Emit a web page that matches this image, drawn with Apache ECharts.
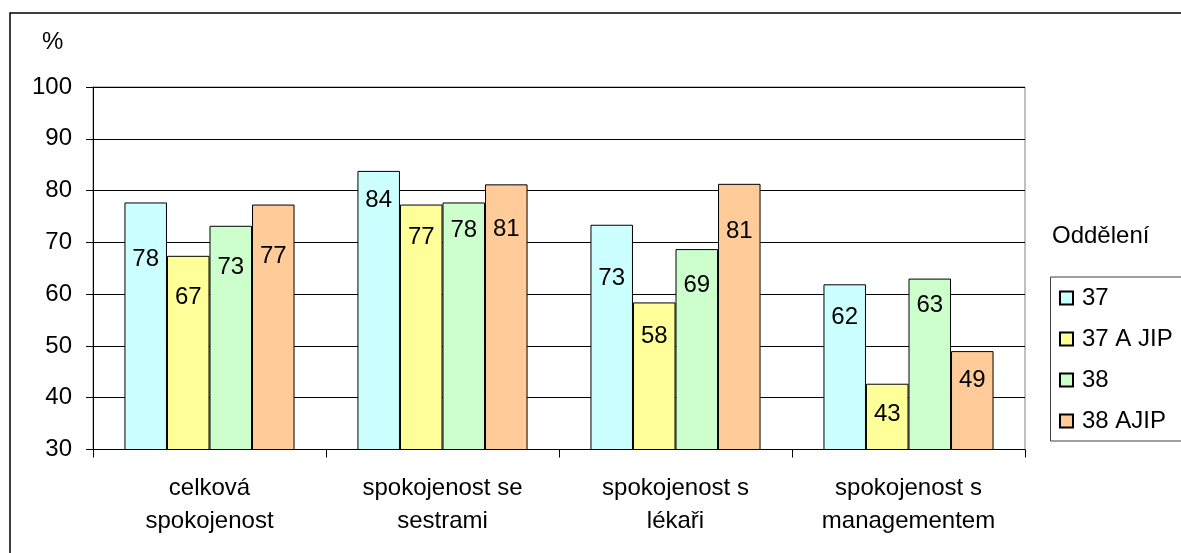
<!DOCTYPE html>
<html>
<head>
<meta charset="utf-8">
<script src="https://cdn.jsdelivr.net/npm/echarts@6/dist/echarts.min.js"></script>
<style>
  html, body { margin: 0; padding: 0; background: #fff; }
  #myChart { width: 1181px; height: 553px; }
</style>
</head>
<body>
<div id="myChart"></div>
<script>
// kategorie a hodnoty (%)
var categories = ['celková\nspokojenost', 'spokojenost se\nsestrami', 'spokojenost s\nlékaři', 'spokojenost s\nmanagementem'];
var seriesNames = ['37', '37 A JIP', '38', '38 AJIP'];
var s37 = [77.7, 83.8, 73.4, 61.9];
var s37ajip = [67.4, 77.3, 58.4, 42.7];
var s38 = [73.2, 77.7, 68.7, 63.0];
var s38ajip = [77.3, 81.2, 81.3, 49.0];
var yTicks = {min: 30, max: 100, step: 10};

var colors = ['#CCFFFF', '#FFFF99', '#CCFFCC', '#FFCC99'];
// posun popisku od horni hrany sloupce (px), jako v puvodnim grafu
var labelDist = [
  [45, 17, 42, 21],
  [30, 21, 22, 19],
  [30, 16, 24, 15],
  [40, 33, 36, 17]
];
var font = 'Liberation Sans, Arial, sans-serif';

function makeSeries(idx, values) {
  return {
    name: seriesNames[idx],
    type: 'bar',
    barGap: 0,
    barCategoryGap: '27%',
    itemStyle: {color: colors[idx], borderColor: '#000', borderWidth: 1},
    label: {
      show: true,
      position: 'insideTop',
      color: '#000',
      fontFamily: font,
      fontSize: 24,
      lineHeight: 24,
      formatter: function (p) { return Math.round(p.value); }
    },
    data: values.map(function (v, i) {
      return {value: v, label: {distance: labelDist[idx][i]}};
    })
  };
}

var myChart = echarts.init(document.getElementById('myChart'));
var option = {
  animation: false,
  backgroundColor: '#fff',
  grid: {
    left: 93, right: 156, top: 87, bottom: 103.5,
    show: true, borderColor: '#808080', borderWidth: 1
  },
  legend: {
    orient: 'vertical',
    left: 1059,
    top: 286,
    padding: 0,
    itemWidth: 13,
    itemHeight: 13,
    itemGap: 17,
    icon: 'rect',
    textStyle: {fontFamily: font, fontSize: 24, lineHeight: 24, color: '#000', padding: [0, 0, 0, 4]},
    data: seriesNames
  },
  xAxis: {
    type: 'category',
    data: categories,
    axisLine: {lineStyle: {color: '#000', width: 1}},
    axisTick: {show: true, length: 8, lineStyle: {color: '#000'}},
    axisLabel: {fontFamily: font, fontSize: 24, lineHeight: 33, color: '#000', margin: 22}
  },
  yAxis: {
    type: 'value',
    min: yTicks.min,
    max: yTicks.max,
    interval: yTicks.step,
    axisLine: {show: true, lineStyle: {color: '#000', width: 1}},
    axisTick: {show: true, length: 7, lineStyle: {color: '#000'}},
    axisLabel: {fontFamily: font, fontSize: 24, color: '#000', margin: 21},
    splitLine: {lineStyle: {color: '#000', width: 1}}
  },
  graphic: [
    {type: 'rect', shape: {x: 10, y: 13, width: 1300, height: 700},
      style: {fill: 'none', stroke: '#000', lineWidth: 1.5}, silent: true},
    {type: 'rect', shape: {x: 1050.5, y: 277, width: 200, height: 164},
      style: {fill: 'none', stroke: '#404040', lineWidth: 1}, silent: true, z: -1},
    {type: 'text', left: 42, top: 30,
      style: {text: '%', fontFamily: font, fontSize: 24, fill: '#000'}},
    {type: 'text', left: 1052, top: 224,
      style: {text: 'Oddělení', fontFamily: font, fontSize: 24, fill: '#000'}}
  ],
  series: [
    makeSeries(0, s37),
    makeSeries(1, s37ajip),
    makeSeries(2, s38),
    makeSeries(3, s38ajip)
  ]
};
myChart.setOption(option, true);
</script>
</body>
</html>
